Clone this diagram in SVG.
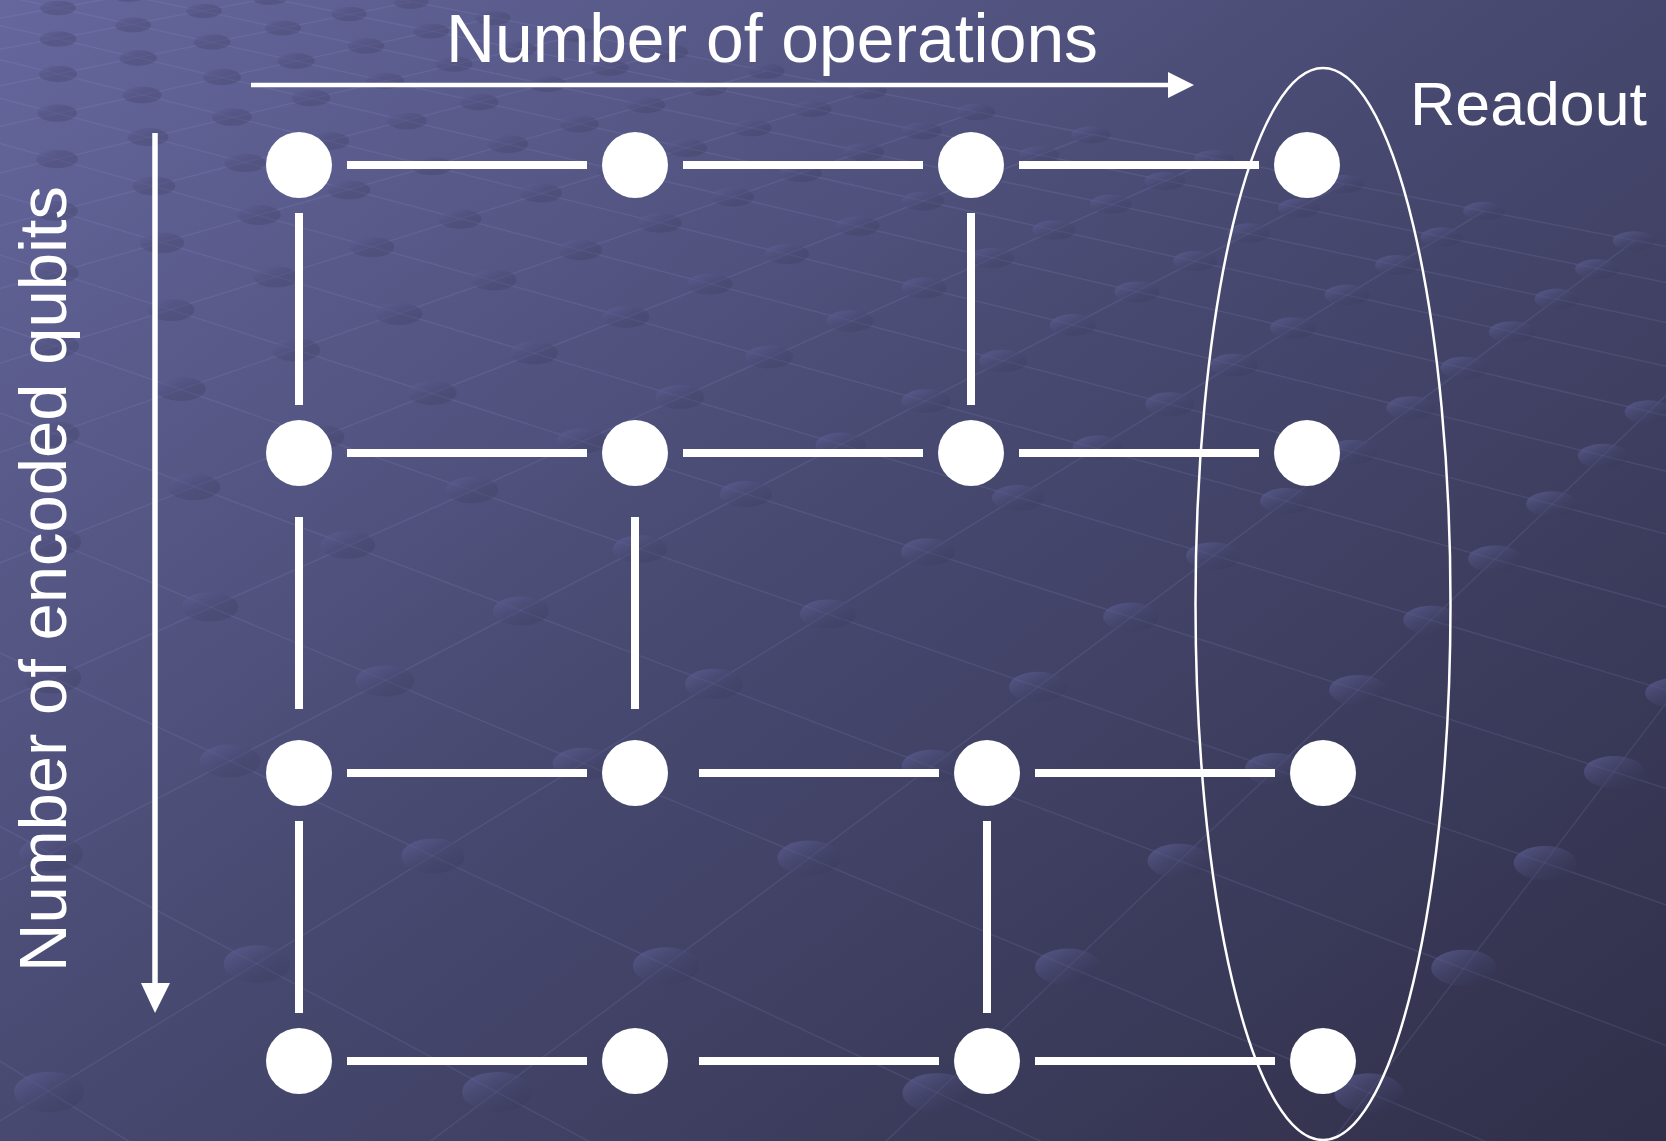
<svg xmlns="http://www.w3.org/2000/svg" width="1666" height="1141" viewBox="0 0 1666 1141">
  <defs>
    <linearGradient id="bg" gradientUnits="userSpaceOnUse" x1="0" y1="0" x2="1119" y2="1517">
      <stop offset="0" stop-color="#65679d"/>
      <stop offset="0.5" stop-color="#47486f"/>
      <stop offset="1" stop-color="#30304a"/>
    </linearGradient>
    <linearGradient id="bead" x1="0" y1="0" x2="1" y2="1">
      <stop offset="0" stop-color="#63649c" stop-opacity="0.75"/>
      <stop offset="1" stop-color="#2e2e4a" stop-opacity="0.15"/>
    </linearGradient>
    <style>
      .node { fill: #ffffff; }
      .edge { stroke: #ffffff; stroke-width: 8; fill: none; }
      .axis { stroke: #ffffff; fill: none; }
      .head { fill: #ffffff; }
      .label { fill: #ffffff; font-family: "Liberation Sans", "DejaVu Sans", sans-serif; }
      .ring { stroke: #ffffff; stroke-width: 2.5; fill: none; }
      .grid line { stroke: #a0a2e2; stroke-opacity: 0.13; stroke-width: 1.5; }
      .beads ellipse { fill: url(#bead); }
    </style>
  </defs>

  <!-- backdrop -->
  <rect x="0" y="0" width="1666" height="1141" fill="url(#bg)"/>

  <!-- perspective lattice texture behind the figure -->
  <g id="backdrop-lattice">
    <g class="grid">
      <line x1="1238" y1="1832" x2="-1041" y2="413"/>
      <line x1="1469" y1="1612" x2="-945" y2="321"/>
      <line x1="1658" y1="1431" x2="-867" y2="246"/>
      <line x1="1816" y1="1280" x2="-801" y2="183"/>
      <line x1="1949" y1="1153" x2="-745" y2="130"/>
      <line x1="2064" y1="1043" x2="-697" y2="85"/>
      <line x1="2164" y1="948" x2="-656" y2="45"/>
      <line x1="2251" y1="864" x2="-620" y2="10"/>
      <line x1="2328" y1="791" x2="-588" y2="-20"/>
      <line x1="2396" y1="725" x2="-559" y2="-48"/>
      <line x1="2458" y1="667" x2="-533" y2="-72"/>
      <line x1="2513" y1="614" x2="-510" y2="-94"/>
      <line x1="2563" y1="566" x2="-490" y2="-114"/>
      <line x1="2609" y1="523" x2="-471" y2="-132"/>
      <line x1="2650" y1="483" x2="-453" y2="-149"/>
      <line x1="2688" y1="446" x2="-437" y2="-164"/>
      <line x1="1969" y1="306" x2="1310" y2="1170"/>
      <line x1="1795" y1="272" x2="856" y2="1170"/>
      <line x1="1634" y1="241" x2="392" y2="1170"/>
      <line x1="1484" y1="211" x2="-80" y2="1170"/>
      <line x1="1344" y1="184" x2="-560" y2="1170"/>
      <line x1="1214" y1="159" x2="-1048" y2="1170"/>
      <line x1="1091" y1="135" x2="-1548" y2="1170"/>
      <line x1="976" y1="112" x2="-2056" y2="1170"/>
      <line x1="868" y1="91" x2="-2573" y2="1170"/>
      <line x1="766" y1="71" x2="-3104" y2="1170"/>
      <line x1="670" y1="52" x2="-3640" y2="1170"/>
      <line x1="579" y1="35" x2="-4191" y2="1170"/>
      <line x1="493" y1="18" x2="-4753" y2="1170"/>
      <line x1="411" y1="2" x2="-5323" y2="1170"/>
      <line x1="333" y1="-14" x2="-5909" y2="1170"/>
      <line x1="260" y1="-28" x2="-6504" y2="1170"/>
    </g>
    <g class="beads">
      <ellipse cx="49" cy="1092" rx="35" ry="20.3"/>
      <ellipse cx="497" cy="1092" rx="34.9" ry="20.1"/>
      <ellipse cx="257" cy="964" rx="33.4" ry="18.8"/>
      <ellipse cx="51" cy="854" rx="31.9" ry="17.6"/>
      <ellipse cx="937" cy="1093" rx="34.7" ry="19.9"/>
      <ellipse cx="666" cy="966" rx="33.2" ry="18.7"/>
      <ellipse cx="433" cy="856" rx="31.7" ry="17.5"/>
      <ellipse cx="230" cy="761" rx="30.5" ry="16.4"/>
      <ellipse cx="52" cy="678" rx="29.3" ry="15.5"/>
      <ellipse cx="1369" cy="1093" rx="34.5" ry="19.7"/>
      <ellipse cx="1068" cy="967" rx="33" ry="18.5"/>
      <ellipse cx="809" cy="858" rx="31.7" ry="17.5"/>
      <ellipse cx="583" cy="764" rx="30.4" ry="16.3"/>
      <ellipse cx="385" cy="681" rx="29.3" ry="15.5"/>
      <ellipse cx="210" cy="607" rx="28.2" ry="14.6"/>
      <ellipse cx="54" cy="542" rx="27.3" ry="13.9"/>
      <ellipse cx="1464" cy="968" rx="32.8" ry="18.3"/>
      <ellipse cx="1179" cy="861" rx="31.5" ry="17.3"/>
      <ellipse cx="932" cy="766" rx="30.2" ry="16.2"/>
      <ellipse cx="714" cy="684" rx="29.1" ry="15.3"/>
      <ellipse cx="521" cy="611" rx="28.1" ry="14.5"/>
      <ellipse cx="348" cy="545" rx="27.2" ry="13.8"/>
      <ellipse cx="194" cy="487" rx="26.3" ry="13.2"/>
      <ellipse cx="54" cy="434" rx="25.6" ry="12.6"/>
      <ellipse cx="1545" cy="863" rx="31.3" ry="17.1"/>
      <ellipse cx="1275" cy="769" rx="30.1" ry="16.1"/>
      <ellipse cx="1038" cy="687" rx="29" ry="15.2"/>
      <ellipse cx="828" cy="614" rx="28.1" ry="14.5"/>
      <ellipse cx="640" cy="549" rx="27.1" ry="13.8"/>
      <ellipse cx="472" cy="490" rx="26.3" ry="13.2"/>
      <ellipse cx="319" cy="437" rx="25.5" ry="12.5"/>
      <ellipse cx="181" cy="389" rx="24.8" ry="12"/>
      <ellipse cx="55" cy="346" rx="24.1" ry="11.6"/>
      <ellipse cx="1614" cy="772" rx="30.1" ry="16.1"/>
      <ellipse cx="1358" cy="690" rx="28.9" ry="15.1"/>
      <ellipse cx="1131" cy="617" rx="27.9" ry="14.4"/>
      <ellipse cx="928" cy="552" rx="27" ry="13.7"/>
      <ellipse cx="746" cy="494" rx="26.2" ry="13.1"/>
      <ellipse cx="582" cy="441" rx="25.4" ry="12.5"/>
      <ellipse cx="432" cy="393" rx="24.7" ry="11.9"/>
      <ellipse cx="296" cy="350" rx="24.1" ry="11.6"/>
      <ellipse cx="171" cy="310" rx="23.4" ry="11.1"/>
      <ellipse cx="56" cy="273" rx="22.9" ry="10.7"/>
      <ellipse cx="1674" cy="693" rx="28.8" ry="15"/>
      <ellipse cx="1431" cy="620" rx="27.8" ry="14.3"/>
      <ellipse cx="1213" cy="556" rx="27" ry="13.7"/>
      <ellipse cx="1018" cy="498" rx="26.1" ry="13"/>
      <ellipse cx="841" cy="445" rx="25.4" ry="12.5"/>
      <ellipse cx="680" cy="397" rx="24.6" ry="11.9"/>
      <ellipse cx="534" cy="353" rx="24" ry="11.5"/>
      <ellipse cx="399" cy="314" rx="23.4" ry="11"/>
      <ellipse cx="276" cy="277" rx="22.8" ry="10.6"/>
      <ellipse cx="162" cy="243" rx="22.2" ry="10.3"/>
      <ellipse cx="56" cy="211" rx="21.8" ry="9.9"/>
      <ellipse cx="1495" cy="559" rx="26.9" ry="13.6"/>
      <ellipse cx="1286" cy="501" rx="26" ry="12.9"/>
      <ellipse cx="1098" cy="448" rx="25.3" ry="12.4"/>
      <ellipse cx="926" cy="401" rx="24.6" ry="11.8"/>
      <ellipse cx="769" cy="357" rx="23.9" ry="11.4"/>
      <ellipse cx="626" cy="317" rx="23.3" ry="10.9"/>
      <ellipse cx="494" cy="280" rx="22.7" ry="10.6"/>
      <ellipse cx="372" cy="247" rx="22.2" ry="10.3"/>
      <ellipse cx="259" cy="215" rx="21.7" ry="9.9"/>
      <ellipse cx="154" cy="186" rx="21.3" ry="9.6"/>
      <ellipse cx="57" cy="159" rx="20.8" ry="9.3"/>
      <ellipse cx="1552" cy="504" rx="25.9" ry="12.8"/>
      <ellipse cx="1352" cy="452" rx="25.2" ry="12.3"/>
      <ellipse cx="1170" cy="404" rx="24.6" ry="11.8"/>
      <ellipse cx="1003" cy="361" rx="23.9" ry="11.3"/>
      <ellipse cx="850" cy="321" rx="23.3" ry="10.9"/>
      <ellipse cx="710" cy="284" rx="22.7" ry="10.5"/>
      <ellipse cx="580" cy="250" rx="22.1" ry="10.2"/>
      <ellipse cx="460" cy="219" rx="21.6" ry="9.8"/>
      <ellipse cx="349" cy="190" rx="21.2" ry="9.5"/>
      <ellipse cx="245" cy="163" rx="20.7" ry="9.2"/>
      <ellipse cx="148" cy="137" rx="20.3" ry="9"/>
      <ellipse cx="57" cy="113" rx="19.9" ry="8.7"/>
      <ellipse cx="1603" cy="456" rx="25.1" ry="12.2"/>
      <ellipse cx="1411" cy="408" rx="24.5" ry="11.8"/>
      <ellipse cx="1234" cy="365" rx="23.8" ry="11.3"/>
      <ellipse cx="1073" cy="325" rx="23.2" ry="10.9"/>
      <ellipse cx="924" cy="288" rx="22.6" ry="10.5"/>
      <ellipse cx="787" cy="254" rx="22" ry="10.1"/>
      <ellipse cx="660" cy="223" rx="21.6" ry="9.8"/>
      <ellipse cx="541" cy="193" rx="21.1" ry="9.5"/>
      <ellipse cx="432" cy="166" rx="20.7" ry="9.2"/>
      <ellipse cx="329" cy="141" rx="20.3" ry="8.9"/>
      <ellipse cx="232" cy="117" rx="19.9" ry="8.7"/>
      <ellipse cx="142" cy="95" rx="19.5" ry="8.4"/>
      <ellipse cx="58" cy="74" rx="19.1" ry="8.2"/>
      <ellipse cx="1649" cy="412" rx="24.4" ry="11.7"/>
      <ellipse cx="1464" cy="368" rx="23.8" ry="11.3"/>
      <ellipse cx="1293" cy="328" rx="23.1" ry="10.8"/>
      <ellipse cx="1137" cy="292" rx="22.6" ry="10.5"/>
      <ellipse cx="992" cy="258" rx="22" ry="10.1"/>
      <ellipse cx="858" cy="226" rx="21.6" ry="9.8"/>
      <ellipse cx="733" cy="197" rx="21.1" ry="9.4"/>
      <ellipse cx="617" cy="170" rx="20.7" ry="9.2"/>
      <ellipse cx="508" cy="144" rx="20.2" ry="8.9"/>
      <ellipse cx="407" cy="121" rx="19.8" ry="8.6"/>
      <ellipse cx="311" cy="98" rx="19.4" ry="8.4"/>
      <ellipse cx="222" cy="77" rx="19.1" ry="8.2"/>
      <ellipse cx="138" cy="58" rx="18.8" ry="7.9"/>
      <ellipse cx="58" cy="39" rx="18.5" ry="7.8"/>
      <ellipse cx="1691" cy="372" rx="23.7" ry="11.2"/>
      <ellipse cx="1512" cy="332" rx="23.1" ry="10.8"/>
      <ellipse cx="1347" cy="295" rx="22.5" ry="10.4"/>
      <ellipse cx="1195" cy="261" rx="21.9" ry="10.1"/>
      <ellipse cx="1054" cy="230" rx="21.5" ry="9.8"/>
      <ellipse cx="923" cy="201" rx="21" ry="9.4"/>
      <ellipse cx="801" cy="173" rx="20.6" ry="9.1"/>
      <ellipse cx="687" cy="148" rx="20.2" ry="8.9"/>
      <ellipse cx="579" cy="124" rx="19.8" ry="8.6"/>
      <ellipse cx="479" cy="102" rx="19.4" ry="8.4"/>
      <ellipse cx="385" cy="81" rx="19.1" ry="8.1"/>
      <ellipse cx="296" cy="61" rx="18.8" ry="7.9"/>
      <ellipse cx="212" cy="42" rx="18.4" ry="7.7"/>
      <ellipse cx="133" cy="25" rx="18.1" ry="7.5"/>
      <ellipse cx="58" cy="8" rx="17.8" ry="7.3"/>
      <ellipse cx="1557" cy="299" rx="22.4" ry="10.4"/>
      <ellipse cx="1397" cy="265" rx="21.9" ry="10.1"/>
      <ellipse cx="1249" cy="233" rx="21.4" ry="9.7"/>
      <ellipse cx="1111" cy="204" rx="21" ry="9.4"/>
      <ellipse cx="983" cy="177" rx="20.6" ry="9.1"/>
      <ellipse cx="864" cy="152" rx="20.1" ry="8.8"/>
      <ellipse cx="752" cy="128" rx="19.7" ry="8.6"/>
      <ellipse cx="646" cy="105" rx="19.3" ry="8.3"/>
      <ellipse cx="547" cy="84" rx="19" ry="8.1"/>
      <ellipse cx="454" cy="64" rx="18.7" ry="7.9"/>
      <ellipse cx="366" cy="46" rx="18.4" ry="7.7"/>
      <ellipse cx="283" cy="28" rx="18.1" ry="7.5"/>
      <ellipse cx="204" cy="11" rx="17.8" ry="7.3"/>
      <ellipse cx="129" cy="-5" rx="17.5" ry="7.1"/>
      <ellipse cx="1597" cy="269" rx="21.9" ry="10"/>
      <ellipse cx="1442" cy="237" rx="21.4" ry="9.7"/>
      <ellipse cx="1299" cy="208" rx="21" ry="9.4"/>
      <ellipse cx="1165" cy="181" rx="20.5" ry="9"/>
      <ellipse cx="1039" cy="155" rx="20.1" ry="8.8"/>
      <ellipse cx="922" cy="131" rx="19.7" ry="8.5"/>
      <ellipse cx="812" cy="109" rx="19.4" ry="8.3"/>
      <ellipse cx="708" cy="88" rx="19" ry="8.1"/>
      <ellipse cx="610" cy="68" rx="18.7" ry="7.9"/>
      <ellipse cx="518" cy="49" rx="18.4" ry="7.7"/>
      <ellipse cx="431" cy="31" rx="18" ry="7.5"/>
      <ellipse cx="349" cy="14" rx="17.8" ry="7.3"/>
      <ellipse cx="270" cy="-2" rx="17.5" ry="7.1"/>
      <ellipse cx="1634" cy="241" rx="21.4" ry="9.7"/>
      <ellipse cx="1484" cy="211" rx="20.9" ry="9.3"/>
      <ellipse cx="1344" cy="184" rx="20.5" ry="9"/>
      <ellipse cx="1214" cy="159" rx="20" ry="8.8"/>
      <ellipse cx="1091" cy="135" rx="19.7" ry="8.5"/>
      <ellipse cx="976" cy="112" rx="19.3" ry="8.3"/>
      <ellipse cx="868" cy="91" rx="19" ry="8"/>
      <ellipse cx="766" cy="71" rx="18.6" ry="7.8"/>
      <ellipse cx="670" cy="52" rx="18.3" ry="7.7"/>
      <ellipse cx="579" cy="35" rx="18" ry="7.5"/>
      <ellipse cx="493" cy="18" rx="17.7" ry="7.3"/>
      <ellipse cx="411" cy="2" rx="17.5" ry="7.1"/>
    </g>
  </g>

  <!-- axis labels -->
  <g id="labels">
    <text class="label" x="446" y="62" font-size="68" textLength="652" lengthAdjust="spacingAndGlyphs">Number of operations</text>
    <text class="label" x="1410" y="125" font-size="61" textLength="237" lengthAdjust="spacingAndGlyphs">Readout</text>
    <text class="label" transform="translate(66,972) rotate(-90)" x="0" y="0" font-size="66" textLength="786" lengthAdjust="spacingAndGlyphs">Number of encoded qubits</text>
  </g>

  <!-- axis arrows -->
  <g id="axes">
    <line class="axis" x1="251" y1="85" x2="1170" y2="85" stroke-width="4.5"/>
    <polygon class="head" points="1168,72 1194,85 1168,98"/>
    <line class="axis" x1="155" y1="133" x2="155" y2="985" stroke-width="5.5"/>
    <polygon class="head" points="141,983 170,983 155,1013"/>
  </g>

  <!-- readout enclosure -->
  <g id="readout-ring">
    <ellipse class="ring" cx="1323" cy="604" rx="127.5" ry="536"/>
  </g>

  <!-- lattice bonds -->
  <g id="connectors">
    <line class="edge" x1="347" y1="165" x2="587" y2="165"/>
    <line class="edge" x1="683" y1="165" x2="923" y2="165"/>
    <line class="edge" x1="1019" y1="165" x2="1259" y2="165"/>
    <line class="edge" x1="347" y1="453" x2="587" y2="453"/>
    <line class="edge" x1="683" y1="453" x2="923" y2="453"/>
    <line class="edge" x1="1019" y1="453" x2="1259" y2="453"/>
    <line class="edge" x1="347" y1="773" x2="587" y2="773"/>
    <line class="edge" x1="699" y1="773" x2="939" y2="773"/>
    <line class="edge" x1="1035" y1="773" x2="1275" y2="773"/>
    <line class="edge" x1="347" y1="1061" x2="587" y2="1061"/>
    <line class="edge" x1="699" y1="1061" x2="939" y2="1061"/>
    <line class="edge" x1="1035" y1="1061" x2="1275" y2="1061"/>
    <line class="edge" x1="299" y1="213" x2="299" y2="405"/>
    <line class="edge" x1="971" y1="213" x2="971" y2="405"/>
    <line class="edge" x1="299" y1="517" x2="299" y2="709"/>
    <line class="edge" x1="635" y1="517" x2="635" y2="709"/>
    <line class="edge" x1="299" y1="821" x2="299" y2="1013"/>
    <line class="edge" x1="987" y1="821" x2="987" y2="1013"/>
  </g>

  <!-- qubit sites -->
  <g id="n-r1c1"><circle class="node" cx="299" cy="165" r="33"/></g>
  <g id="n-r1c2"><circle class="node" cx="635" cy="165" r="33"/></g>
  <g id="n-r1c3"><circle class="node" cx="971" cy="165" r="33"/></g>
  <g id="n-r1c4"><circle class="node" cx="1307" cy="165" r="33"/></g>
  <g id="n-r2c1"><circle class="node" cx="299" cy="453" r="33"/></g>
  <g id="n-r2c2"><circle class="node" cx="635" cy="453" r="33"/></g>
  <g id="n-r2c3"><circle class="node" cx="971" cy="453" r="33"/></g>
  <g id="n-r2c4"><circle class="node" cx="1307" cy="453" r="33"/></g>
  <g id="n-r3c1"><circle class="node" cx="299" cy="773" r="33"/></g>
  <g id="n-r3c2"><circle class="node" cx="635" cy="773" r="33"/></g>
  <g id="n-r3c3"><circle class="node" cx="987" cy="773" r="33"/></g>
  <g id="n-r3c4"><circle class="node" cx="1323" cy="773" r="33"/></g>
  <g id="n-r4c1"><circle class="node" cx="299" cy="1061" r="33"/></g>
  <g id="n-r4c2"><circle class="node" cx="635" cy="1061" r="33"/></g>
  <g id="n-r4c3"><circle class="node" cx="987" cy="1061" r="33"/></g>
  <g id="n-r4c4"><circle class="node" cx="1323" cy="1061" r="33"/></g>
</svg>
